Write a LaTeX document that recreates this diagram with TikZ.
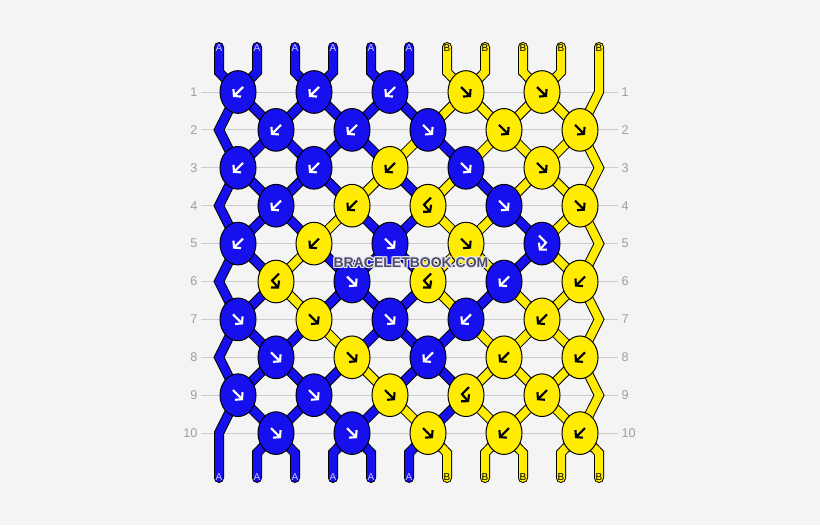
\documentclass[tikz,border=0pt]{standalone}
\usepackage{fontspec}
\setmainfont{Liberation Sans}
\usetikzlibrary{shapes.geometric,arrows.meta}

\definecolor{thread0}{RGB}{22,16,238}
\definecolor{thread1}{RGB}{255,236,0}
\definecolor{pagebg}{RGB}{244,244,244}
\definecolor{rulegray}{RGB}{204,204,204}
\definecolor{numgray}{RGB}{158,158,158}
\definecolor{letter0}{RGB}{205,205,255}
\definecolor{letter1}{RGB}{0,0,0}
\definecolor{markgray}{RGB}{78,78,96}
\definecolor{markhalo}{RGB}{232,232,250}

\pgfdeclarelayer{back}
\pgfsetlayers{back,main}

\tikzset{
  knot/.style={ellipse, draw=black, line width=0.75pt, inner sep=0pt, minimum width=27pt, minimum height=32pt},
  rim/.style={draw=black, line width=7.5pt, line cap=round, line join=miter},
  yarn/.style={draw=thread#1, line width=6pt, line cap=round, line join=miter},
  glyph/.style={line width=1.6pt, -{Straight Barb[length=3.4pt,width=8pt]}},
  g0/.style={glyph, color=white},
  g1/.style={glyph, color=black},
  rownum/.style={font=\fontsize{9.5}{11}\selectfont, text=numgray, inner sep=2.5pt},
  endlabel/.style={font=\fontsize{7.5}{8}\selectfont, inner sep=0pt},
  gridline/.style={draw=rulegray, line width=0.75pt},
  markfont/.style={font=\fontsize{10.5}{12}\selectfont\bfseries, inner sep=0pt},
  fwd/.pic={\draw[pic actions] (-5,5) -- (5,-5);},
  bwd/.pic={\draw[pic actions] (5,5) -- (-5,-5);},
  fb/.pic={\draw[pic actions] (-3,8) -- (4,1) -- (-3,-7);},
  bf/.pic={\draw[pic actions] (3,8) -- (-4,1) -- (3,-7);}
}

\begin{document}
\begin{tikzpicture}[x=0.75pt,y=0.75pt,yscale=-1,xscale=1]
\useasboundingbox (0,0) rectangle (820,525);
\begin{pgfonlayer}{back}
\fill[pagebg] (0,0) rectangle (820,525);
\end{pgfonlayer}

% row numbers, rules and the free string of each row
\foreach \rw in {1,...,10}{
  \pgfmathsetmacro\yy{54.1+37.9*\rw}
  \node[rownum, anchor=east] (ln\rw) at (201,\yy) {\rw};
  \node[rownum, anchor=west] (rn\rw) at (618,\yy) {\rw};
  \begin{pgfonlayer}{back}
  \draw[gridline] (ln\rw.east) -- (rn\rw.west);
  \end{pgfonlayer}
  \pgfmathsetmacro\xe{mod(\rw,2)==1 ? 599 : 219}
  \coordinate (e\rw) at (\xe,\yy);
}

% string ends
\foreach \s in {0,...,10}{
  \pgfmathsetmacro\xs{219+38*\s}
  \pgfmathtruncatemacro\col{\s>5}
  \coordinate (t\s) at (\xs,47);
  \coordinate (tb\s) at (\xs,72);
  \coordinate (bb\s) at (\xs,453);
  \coordinate (b\s) at (\xs,478);
  \node[endlabel, text=letter\col] (lt\s) at (\xs,48) {\ifnum\col=0 A\else B\fi};
  \node[endlabel, text=letter\col] (lb\s) at (\xs,477) {\ifnum\col=0 A\else B\fi};
}

% knots: colour/kind
\foreach \rw/\kl in {1/{0/bwd,0/bwd,0/bwd,1/fwd,1/fwd},
                     2/{0/bwd,0/bwd,0/fwd,1/fwd,1/fwd},
                     3/{0/bwd,0/bwd,1/bwd,0/fwd,1/fwd},
                     4/{0/bwd,1/bwd,1/bf,0/fwd,1/fwd},
                     5/{0/bwd,1/bwd,0/fwd,1/fwd,0/fb},
                     6/{1/bf,0/fwd,1/bf,0/bwd,1/bwd},
                     7/{0/fwd,1/fwd,0/fwd,0/bwd,1/bwd},
                     8/{0/fwd,1/fwd,0/bwd,1/bwd,1/bwd},
                     9/{0/fwd,0/fwd,1/fwd,1/bf,1/bwd},
                     10/{0/fwd,0/fwd,1/fwd,1/bwd,1/bwd}}{
  \pgfmathsetmacro\yy{54.1+37.9*\rw}
  \pgfmathsetmacro\xo{mod(\rw,2)==1 ? 238 : 276}
  \foreach \col/\typ [count=\kn from 0] in \kl {
    \node[knot, fill=thread\col] (k\rw-\kn) at (\xo+76*\kn,\yy) {};
    \pic[g\col] at (k\rw-\kn) {\typ};
  }
}

% strings, outline first then colour
\begin{pgfonlayer}{back}
\foreach \pass in {rim,yarn}{
  \foreach \s in {0,...,9}{
    \pgfmathtruncatemacro\kn{floor(\s/2)}
    \pgfmathtruncatemacro\col{\s>5}
    \draw[\pass=\col] (t\s) -- (tb\s) -- (k1-\kn.center);
  }
  \draw[\pass=1] (t10) -- (e1) -- (k2-4.center);
  % thread colour of each string after row \rw
  \foreach \rw/\st in {1/{0,0,0,0,0,0,1,1,1,1,1},
                       2/{0,0,0,0,0,1,0,1,1,1,1},
                       3/{0,0,0,0,1,0,1,0,1,1,1},
                       4/{0,0,0,1,0,0,1,1,0,1,1},
                       5/{0,0,1,0,0,0,1,1,0,1,1},
                       6/{0,0,1,0,0,0,1,0,1,1,1},
                       7/{0,0,0,1,0,0,0,1,1,1,1},
                       8/{0,0,0,0,1,0,0,1,1,1,1},
                       9/{0,0,0,0,0,1,0,1,1,1,1}}{
    \pgfmathtruncatemacro\nx{\rw+1}
    \foreach \s in {1,...,9}{
      \pgfmathtruncatemacro\col{{\st}[\s]}
      \pgfmathtruncatemacro\ka{mod(\rw,2)==1 ? floor(\s/2) : floor((\s-1)/2)}
      \pgfmathtruncatemacro\kb{mod(\rw,2)==1 ? floor((\s-1)/2) : floor(\s/2)}
      \draw[\pass=\col] (k\rw-\ka.center) -- (k\nx-\kb.center);
    }
  }
  \foreach \rw in {2,4,6,8}{
    \pgfmathtruncatemacro\up{\rw-1}
    \pgfmathtruncatemacro\dn{\rw+1}
    \draw[\pass=0] (k\up-0.center) -- (e\rw) -- (k\dn-0.center);
  }
  \foreach \rw in {3,5,7,9}{
    \pgfmathtruncatemacro\up{\rw-1}
    \pgfmathtruncatemacro\dn{\rw+1}
    \draw[\pass=1] (k\up-4.center) -- (e\rw) -- (k\dn-4.center);
  }
  \draw[\pass=0] (k9-0.center) -- (e10) -- (b0);
  \foreach \s in {1,...,10}{
    \pgfmathtruncatemacro\kn{floor((\s-1)/2)}
    \pgfmathtruncatemacro\col{\s>5}
    \draw[\pass=\col] (k10-\kn.center) -- (bb\s) -- (b\s);
  }
}
\end{pgfonlayer}

% watermark
\foreach \dx/\dy [count=\h] in {-1/0,1/0,0/-1,0/1,-1/-1,1/1,-1/1,1/-1}
  \node[markfont, text=markhalo] (halo\h) at (411+\dx,263+\dy) {BRACELETBOOK.COM};
\node[markfont, text=markgray] (mark) at (411,263) {BRACELETBOOK.COM};

\end{tikzpicture}
\end{document}
